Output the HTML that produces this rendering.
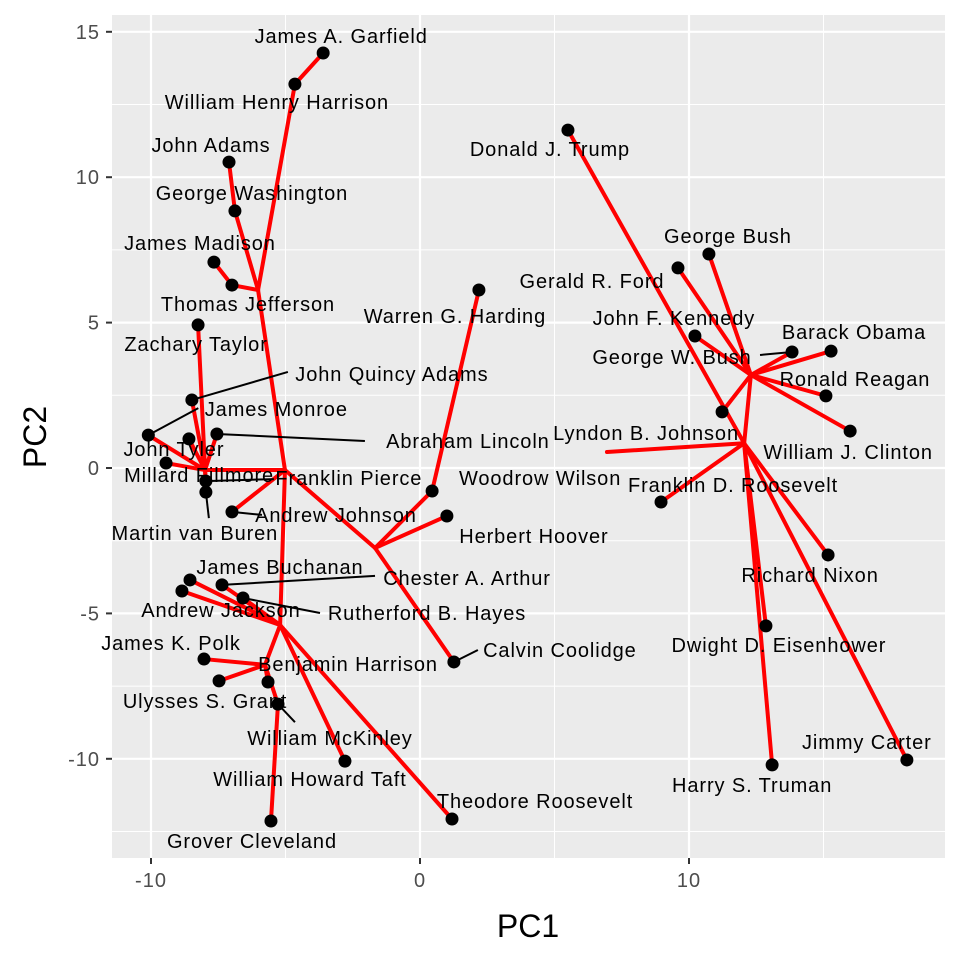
<!DOCTYPE html>
<html><head><meta charset="utf-8"><style>
html,body{margin:0;padding:0;background:#fff}
svg{display:block;font-family:"Liberation Sans",sans-serif}
</style></head><body>
<svg id="chart" width="960" height="960" xmlns="http://www.w3.org/2000/svg">
<rect x="112" y="15" width="833" height="843" fill="#ebebeb"/>
<g id="grid"></g><g id="edges"></g><g id="leaders"></g><g id="points"></g><g id="labels"></g><g id="axes"></g>
<text x="528" y="937" text-anchor="middle" font-size="32" fill="#000">PC1</text>
<text x="0" y="0" transform="translate(46,437) rotate(-90)" text-anchor="middle" font-size="32" fill="#000">PC2</text>
</svg>
<script>
const names=["James A. Garfield","William Henry Harrison","John Adams","George Washington","James Madison","Thomas Jefferson","Zachary Taylor","John Quincy Adams","James Monroe","John Tyler","Millard Fillmore","Abraham Lincoln","Franklin Pierce","Andrew Johnson","Martin van Buren","Woodrow Wilson","Herbert Hoover","James Buchanan","Chester A. Arthur","Andrew Jackson","Rutherford B. Hayes","James K. Polk","Calvin Coolidge","Benjamin Harrison","Ulysses S. Grant","William McKinley","William Howard Taft","Grover Cleveland","Theodore Roosevelt","Warren G. Harding","Donald J. Trump","Gerald R. Ford","George Bush","John F. Kennedy","George W. Bush","Barack Obama","Ronald Reagan","Lyndon B. Johnson","William J. Clinton","Franklin D. Roosevelt","Richard Nixon","Dwight D. Eisenhower","Harry S. Truman","Jimmy Carter"];
const pc1=[-3.6,-4.65,-7.1,-6.88,-7.66,-6.99,-8.25,-8.48,-10.1,-8.59,-9.44,-7.55,-7.96,-6.99,-7.96,0.45,1.0,-8.55,-7.36,-8.85,-6.58,-8.03,1.26,-5.65,-7.47,-5.28,-2.79,-5.54,1.19,2.19,5.5,9.59,10.74,10.22,13.83,15.28,15.09,11.23,15.99,8.96,15.17,12.86,13.09,18.1];
const pc2=[14.27,13.2,10.52,8.84,7.08,6.29,4.92,2.34,1.13,1.0,0.17,1.17,-0.45,-1.51,-0.83,-0.79,-1.65,-3.85,-4.02,-4.23,-4.47,-6.57,-6.67,-7.36,-7.32,-8.12,-10.08,-12.14,-12.07,6.12,11.62,6.88,7.36,4.54,3.99,4.02,2.48,1.93,1.27,-1.17,-2.99,-5.43,-10.21,-10.04];
const xTicks=[-10,0,10], yTicks=[-10,-5,0,5,10,15];
const xMinor=[-5,5,15], yMinor=[-12.5,-7.5,-2.5,2.5,7.5,12.5];
// internal tree nodes
const nodeNames=["nTop","nMid","nLeft","nArth","nLow","nLow2","hub1","hub2","stub"];
const nodeX=[-6.02,-5.02,-7.99,-1.67,-5.2,-5.76,12.3,12.05,6.95];
const nodeY=[6.12,-0.07,-0.07,-2.75,-5.4,-6.77,3.2,0.85,0.55];
const edges=[["James A. Garfield","William Henry Harrison"],["William Henry Harrison","nTop"],["John Adams","George Washington"],["George Washington","nTop"],["James Madison","Thomas Jefferson"],["Thomas Jefferson","nTop"],["nTop","nMid"],["Zachary Taylor","nLeft"],["John Quincy Adams","nLeft"],["James Monroe","nLeft"],["John Tyler","nLeft"],["Millard Fillmore","nLeft"],["Abraham Lincoln","nLeft"],["Franklin Pierce","nLeft"],["Martin van Buren","nLeft"],["nLeft","nMid"],["nMid","nArth"],["Woodrow Wilson","nArth"],["Herbert Hoover","nArth"],["Calvin Coolidge","nArth"],["Warren G. Harding","Woodrow Wilson"],["Andrew Johnson","nMid"],["nMid","nLow"],["James Buchanan","nLow"],["Andrew Jackson","nLow"],["Chester A. Arthur","nLow"],["Rutherford B. Hayes","nLow"],["nLow","nLow2"],["James K. Polk","nLow2"],["Ulysses S. Grant","nLow2"],["Benjamin Harrison","nLow2"],["William McKinley","nLow2"],["Grover Cleveland","William McKinley"],["William Howard Taft","nLow"],["Theodore Roosevelt","nLow"],["Donald J. Trump","hub2"],["Gerald R. Ford","hub1"],["George Bush","hub1"],["John F. Kennedy","hub1"],["George W. Bush","hub1"],["Barack Obama","hub1"],["Ronald Reagan","hub1"],["William J. Clinton","hub1"],["Lyndon B. Johnson","hub1"],["hub1","hub2"],["stub","hub2"],["Franklin D. Roosevelt","hub2"],["Richard Nixon","hub2"],["Dwight D. Eisenhower","hub2"],["Harry S. Truman","hub2"],["Jimmy Carter","hub2"]];
// label offsets (px) - styling
const labelDX=[18,-18,-18,17,-14,16,-2,200,128,-15,33,251,143,104,-11,108,87,90,245,39,184,-33,106,80,-14,52,-35,-19,83,-24,-18,-86,19,-21,-120,23,29,-76,-2,72,-18,13,-20,-40];
const labelDY=[-10,25,-10,-11,-12,26,26,-19,-19,17,19,14,4,10,48,-6,27,-6,0,26,22,-9,-5,-11,27,41,25,27,-11,33,26,20,-11,-11,12,-12,-10,28,28,-10,27,26,27,-11];
const leaderNames=["John Quincy Adams","James Monroe","Abraham Lincoln","Franklin Pierce","Martin van Buren","Andrew Johnson","Chester A. Arthur","Rutherford B. Hayes","Calvin Coolidge","William McKinley","George W. Bush"];
const leaderDX=[96,50,148,68,3,30,153,77,24,17,-32];
const leaderDY=[-28,-27,7,-2,26,3,-9,15,-12,18,3];

const NS="http://www.w3.org/2000/svg";
const X0=112,X1=945,Y0=15,Y1=858;
const sx=v=>420+v*26.9, sy=v=>468-v*29.08;
function mk(tag,attrs,parent){const e=document.createElementNS(NS,tag);for(const k in attrs)e.setAttribute(k,attrs[k]);document.getElementById(parent).appendChild(e);return e;}
xMinor.forEach(v=>{const e=mk('line',{x1:sx(v),x2:sx(v),y1:Y0,y2:Y1,stroke:'#fff','stroke-width':1},'grid');

});
yMinor.forEach(v=>{const e=mk('line',{x1:X0,x2:X1,y1:sy(v),y2:sy(v),stroke:'#fff','stroke-width':1},'grid');

});
xTicks.forEach(v=>{const e=mk('line',{x1:sx(v),x2:sx(v),y1:Y0,y2:Y1,stroke:'#fff','stroke-width':2.2},'grid');


const t=mk('line',{x1:sx(v),x2:sx(v),y1:Y1,y2:Y1+6,stroke:'#333','stroke-width':2},'axes');


const l=mk('text',{x:sx(v),y:Y1+29,'text-anchor':'middle','font-size':20,fill:'#4d4d4d','letter-spacing':1},'axes');l.textContent=v;

});
yTicks.forEach(v=>{const e=mk('line',{x1:X0,x2:X1,y1:sy(v),y2:sy(v),stroke:'#fff','stroke-width':2.2},'grid');


const t=mk('line',{x1:X0-6,x2:X0,y1:sy(v),y2:sy(v),stroke:'#333','stroke-width':2},'axes');


const l=mk('text',{x:X0-12,y:sy(v)+7,'text-anchor':'end','font-size':20,fill:'#4d4d4d','letter-spacing':1},'axes');l.textContent=v;

});
function pos(n){let i=names.indexOf(n);if(i>=0)return[sx(pc1[i]),sy(pc2[i])];i=nodeNames.indexOf(n);return[sx(nodeX[i]),sy(nodeY[i])];}
edges.forEach(([a,b])=>{const p=pos(a),q=pos(b);
const e=mk('line',{x1:p[0],y1:p[1],x2:q[0],y2:q[1],stroke:'#ff0000','stroke-width':4,'stroke-linecap':'round'},'edges');

});
leaderNames.forEach((n,k)=>{const p=pos(n);
const e=mk('line',{x1:p[0],y1:p[1],x2:p[0]+leaderDX[k],y2:p[1]+leaderDY[k],stroke:'#000','stroke-width':2},'leaders');

});
names.forEach((n,i)=>{const x=sx(pc1[i]),y=sy(pc2[i]);
const c=mk('circle',{cx:x,cy:y,r:6.5,fill:'#000'},'points');


const t=mk('text',{x:x+labelDX[i],y:y+labelDY[i],'text-anchor':'middle','font-size':20,'letter-spacing':0.9,fill:'#000'},'labels');t.textContent=n;

});
</script>
</body></html>
